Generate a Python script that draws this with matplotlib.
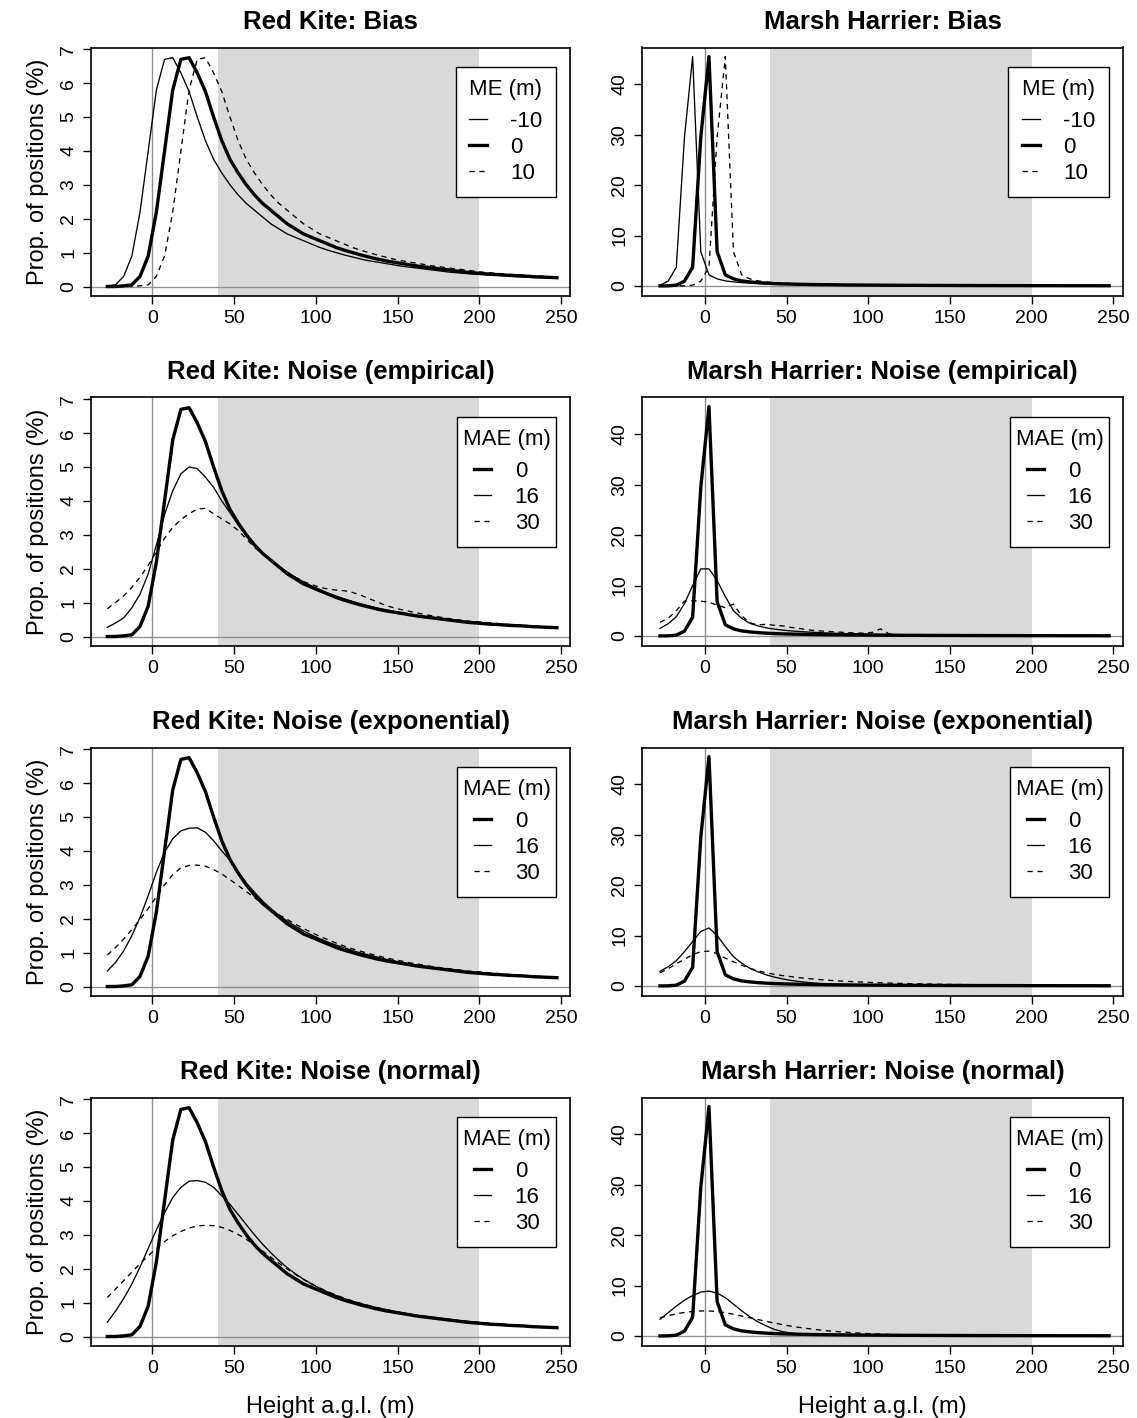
import matplotlib
matplotlib.use("Agg")
import matplotlib.pyplot as plt
from matplotlib.offsetbox import DrawingArea

plt.rcParams['font.family'] = ['Liberation Sans', 'DejaVu Sans']

# ---------------- data ----------------
height = [-27.5, -22.5, -17.5, -12.5, -7.5, -2.5, 2.5, 7.5, 12.5, 17.5,
          22.5, 27.5, 32.5, 37.5, 42.5, 47.5, 52.5, 57.5, 62.5, 67.5,
          72.5, 77.5, 82.5, 87.5, 92.5, 97.5, 102.5, 107.5, 112.5, 117.5,
          122.5, 127.5, 132.5, 137.5, 142.5, 147.5, 152.5, 157.5, 162.5, 167.5,
          172.5, 177.5, 182.5, 187.5, 192.5, 197.5, 202.5, 207.5, 212.5, 217.5,
          222.5, 227.5, 232.5, 237.5, 242.5, 247.5]

# Red Kite
rk_base = [0.00, 0.00, 0.02, 0.05, 0.30, 0.90, 2.20, 4.00, 5.80, 6.70,
           6.75, 6.30, 5.75, 5.00, 4.30, 3.75, 3.35, 3.00, 2.70, 2.45,
           2.25, 2.05, 1.85, 1.70, 1.55, 1.45, 1.35, 1.25, 1.15, 1.07,
           1.00, 0.93, 0.87, 0.81, 0.76, 0.72, 0.68, 0.64, 0.60, 0.57,
           0.54, 0.51, 0.48, 0.45, 0.42, 0.40, 0.38, 0.36, 0.35, 0.33,
           0.32, 0.31, 0.29, 0.28, 0.27, 0.26]
rk_me_m10 = [0.02, 0.05, 0.30, 0.90, 2.20, 4.00, 5.80, 6.70, 6.75, 6.30,
             5.75, 5.00, 4.30, 3.75, 3.35, 3.00, 2.70, 2.45, 2.25, 2.05,
             1.85, 1.70, 1.55, 1.45, 1.35, 1.25, 1.15, 1.07, 1.00, 0.93,
             0.87, 0.81, 0.76, 0.72, 0.68, 0.64, 0.60, 0.57, 0.54, 0.51,
             0.48, 0.45, 0.42, 0.40, 0.38, 0.36, 0.35, 0.33, 0.32, 0.31,
             0.29, 0.28, 0.27, 0.26, 0.25, 0.24]
rk_me_p10 = [0.00, 0.00, 0.00, 0.00, 0.02, 0.05, 0.30, 0.90, 2.20, 4.00,
             5.80, 6.70, 6.75, 6.30, 5.75, 5.00, 4.30, 3.75, 3.35, 3.00,
             2.70, 2.45, 2.25, 2.05, 1.85, 1.70, 1.55, 1.45, 1.35, 1.25,
             1.15, 1.07, 1.00, 0.93, 0.87, 0.81, 0.76, 0.72, 0.68, 0.64,
             0.60, 0.57, 0.54, 0.51, 0.48, 0.45, 0.42, 0.40, 0.38, 0.36,
             0.35, 0.33, 0.32, 0.31, 0.29, 0.28]
rk_emp16 = [0.27, 0.40, 0.55, 0.85, 1.25, 1.85, 2.70, 3.60, 4.30, 4.80,
            5.00, 4.95, 4.70, 4.40, 4.00, 3.65, 3.30, 2.97, 2.70, 2.47,
            2.27, 2.08, 1.90, 1.75, 1.61, 1.49, 1.38, 1.28, 1.19, 1.11,
            1.03, 0.96, 0.90, 0.84, 0.79, 0.74, 0.70, 0.66, 0.62, 0.59,
            0.56, 0.53, 0.50, 0.47, 0.44, 0.42, 0.40, 0.38, 0.36, 0.35,
            0.33, 0.32, 0.30, 0.29, 0.28, 0.27]
rk_emp30 = [0.82, 1.00, 1.20, 1.45, 1.75, 2.10, 2.50, 2.90, 3.22, 3.45,
            3.62, 3.76, 3.78, 3.62, 3.47, 3.32, 3.13, 2.88, 2.63, 2.43,
            2.25, 2.05, 1.90, 1.75, 1.62, 1.53, 1.45, 1.40, 1.37, 1.35,
            1.30, 1.22, 1.12, 1.02, 0.92, 0.85, 0.79, 0.74, 0.69, 0.64,
            0.60, 0.56, 0.52, 0.49, 0.46, 0.44, 0.42, 0.40, 0.38, 0.36,
            0.34, 0.33, 0.31, 0.30, 0.28, 0.27]
rk_exp16 = [0.46, 0.71, 1.05, 1.50, 2.04, 2.68, 3.37, 3.96, 4.36, 4.59,
            4.67, 4.68, 4.55, 4.30, 4.00, 3.72, 3.37, 3.05, 2.78, 2.52,
            2.30, 2.10, 1.93, 1.78, 1.64, 1.52, 1.41, 1.31, 1.22, 1.14,
            1.06, 0.99, 0.93, 0.87, 0.81, 0.76, 0.71, 0.67, 0.63, 0.59,
            0.56, 0.53, 0.50, 0.47, 0.44, 0.42, 0.40, 0.38, 0.36, 0.35,
            0.33, 0.32, 0.30, 0.29, 0.28, 0.27]
rk_exp30 = [0.93, 1.15, 1.40, 1.68, 1.98, 2.30, 2.65, 3.00, 3.30, 3.50,
            3.57, 3.58, 3.55, 3.45, 3.32, 3.15, 2.98, 2.80, 2.62, 2.45,
            2.28, 2.12, 1.98, 1.84, 1.71, 1.59, 1.48, 1.38, 1.28, 1.19,
            1.11, 1.04, 0.97, 0.91, 0.85, 0.80, 0.75, 0.70, 0.66, 0.62,
            0.58, 0.55, 0.52, 0.49, 0.46, 0.44, 0.42, 0.40, 0.38, 0.36,
            0.34, 0.33, 0.31, 0.30, 0.28, 0.27]
rk_nor16 = [0.42, 0.75, 1.12, 1.55, 2.05, 2.60, 3.15, 3.65, 4.10, 4.40,
            4.58, 4.60, 4.55, 4.40, 4.15, 3.90, 3.60, 3.30, 3.00, 2.72,
            2.47, 2.24, 2.03, 1.85, 1.69, 1.55, 1.42, 1.31, 1.21, 1.12,
            1.04, 0.97, 0.91, 0.85, 0.80, 0.75, 0.70, 0.66, 0.62, 0.59,
            0.56, 0.53, 0.50, 0.47, 0.44, 0.42, 0.40, 0.38, 0.36, 0.35,
            0.33, 0.32, 0.30, 0.29, 0.28, 0.27]
rk_nor30 = [1.15, 1.40, 1.65, 1.90, 2.15, 2.38, 2.60, 2.80, 2.97, 3.10,
            3.20, 3.26, 3.28, 3.27, 3.22, 3.13, 3.01, 2.87, 2.70, 2.52,
            2.34, 2.16, 1.99, 1.83, 1.68, 1.55, 1.43, 1.32, 1.22, 1.13,
            1.05, 0.98, 0.91, 0.85, 0.80, 0.75, 0.70, 0.66, 0.62, 0.59,
            0.56, 0.53, 0.50, 0.47, 0.45, 0.43, 0.41, 0.39, 0.37, 0.35,
            0.34, 0.32, 0.31, 0.29, 0.28, 0.27]

# Marsh Harrier
mh_base = [0.00, 0.02, 0.15, 0.95, 3.70, 29.50, 45.50, 6.80, 2.20, 1.40,
           1.00, 0.80, 0.65, 0.55, 0.47, 0.41, 0.37, 0.33, 0.30, 0.27,
           0.25, 0.23, 0.21, 0.19, 0.18, 0.17, 0.16, 0.15, 0.14, 0.13,
           0.12, 0.12, 0.11, 0.10, 0.10, 0.09, 0.09, 0.08, 0.08, 0.07,
           0.07, 0.07, 0.06, 0.06, 0.06, 0.05, 0.05, 0.05, 0.05, 0.04,
           0.04, 0.04, 0.04, 0.04, 0.03, 0.03]
mh_me_m10 = [0.15, 0.95, 3.70, 29.50, 45.50, 6.80, 2.20, 1.40, 1.00, 0.80,
             0.65, 0.55, 0.47, 0.41, 0.37, 0.33, 0.30, 0.27, 0.25, 0.23,
             0.21, 0.19, 0.18, 0.17, 0.16, 0.15, 0.14, 0.13, 0.12, 0.12,
             0.11, 0.10, 0.10, 0.09, 0.09, 0.08, 0.08, 0.07, 0.07, 0.07,
             0.06, 0.06, 0.06, 0.05, 0.05, 0.05, 0.05, 0.04, 0.04, 0.04,
             0.04, 0.04, 0.03, 0.03, 0.03, 0.03]
mh_me_p10 = [0.00, 0.00, 0.00, 0.02, 0.15, 0.95, 3.70, 29.50, 45.50, 6.80,
             2.20, 1.40, 1.00, 0.80, 0.65, 0.55, 0.47, 0.41, 0.37, 0.33,
             0.30, 0.27, 0.25, 0.23, 0.21, 0.19, 0.18, 0.17, 0.16, 0.15,
             0.14, 0.13, 0.12, 0.12, 0.11, 0.10, 0.10, 0.09, 0.09, 0.08,
             0.08, 0.07, 0.07, 0.07, 0.06, 0.06, 0.06, 0.05, 0.05, 0.05,
             0.05, 0.04, 0.04, 0.04, 0.04, 0.04]
mh_emp16 = [1.50, 2.40, 3.80, 6.40, 10.00, 13.30, 13.30, 11.00, 7.80, 5.00,
            3.50, 2.50, 2.00, 1.60, 1.35, 1.15, 1.00, 0.88, 0.78, 0.70,
            0.62, 0.56, 0.50, 0.45, 0.41, 0.37, 0.34, 0.31, 0.28, 0.26,
            0.24, 0.22, 0.20, 0.19, 0.17, 0.16, 0.15, 0.14, 0.13, 0.12,
            0.11, 0.10, 0.10, 0.09, 0.09, 0.08, 0.08, 0.07, 0.07, 0.06,
            0.06, 0.06, 0.05, 0.05, 0.05, 0.04]
mh_emp30 = [2.70, 3.50, 5.00, 6.90, 7.00, 6.90, 6.70, 6.10, 5.60, 6.30,
            4.00, 2.60, 2.20, 2.30, 2.10, 2.00, 1.70, 1.50, 1.25, 1.05,
            0.95, 0.85, 0.75, 0.65, 0.58, 0.55, 0.70, 1.40, 0.45, 0.20,
            0.15, 0.13, 0.12, 0.11, 0.10, 0.09, 0.09, 0.08, 0.08, 0.07,
            0.07, 0.07, 0.06, 0.06, 0.06, 0.05, 0.05, 0.05, 0.05, 0.04,
            0.04, 0.04, 0.04, 0.04, 0.03, 0.03]
mh_exp16 = [2.90, 3.80, 5.00, 6.80, 8.80, 10.80, 11.50, 10.00, 7.80, 5.80,
            4.50, 3.50, 2.80, 2.20, 1.75, 1.40, 1.10, 0.88, 0.70, 0.56,
            0.46, 0.38, 0.32, 0.28, 0.25, 0.22, 0.20, 0.18, 0.16, 0.15,
            0.14, 0.13, 0.12, 0.11, 0.10, 0.09, 0.09, 0.08, 0.08, 0.07,
            0.07, 0.07, 0.06, 0.06, 0.06, 0.05, 0.05, 0.05, 0.05, 0.04,
            0.04, 0.04, 0.04, 0.04, 0.03, 0.03]
mh_exp30 = [2.60, 3.40, 4.40, 5.30, 6.20, 6.80, 6.90, 6.40, 5.50, 4.80,
            4.10, 3.50, 3.00, 2.60, 2.30, 2.05, 1.85, 1.65, 1.48, 1.33,
            1.20, 1.08, 0.98, 0.89, 0.81, 0.74, 0.68, 0.62, 0.57, 0.52,
            0.48, 0.44, 0.40, 0.37, 0.34, 0.31, 0.29, 0.27, 0.25, 0.23,
            0.21, 0.19, 0.18, 0.17, 0.16, 0.15, 0.14, 0.13, 0.12, 0.11,
            0.10, 0.09, 0.09, 0.08, 0.08, 0.07]
mh_nor16 = [3.30, 4.60, 5.90, 7.10, 8.00, 8.70, 8.90, 8.50, 7.60, 6.30,
            5.00, 3.80, 2.80, 2.00, 1.30, 0.85, 0.58, 0.42, 0.33, 0.28,
            0.25, 0.23, 0.21, 0.19, 0.18, 0.17, 0.16, 0.15, 0.14, 0.13,
            0.12, 0.12, 0.11, 0.10, 0.10, 0.09, 0.09, 0.08, 0.08, 0.07,
            0.07, 0.07, 0.06, 0.06, 0.06, 0.05, 0.05, 0.05, 0.05, 0.04,
            0.04, 0.04, 0.04, 0.04, 0.03, 0.03]
mh_nor30 = [3.60, 4.00, 4.40, 4.65, 4.85, 4.95, 4.95, 4.85, 4.60, 4.30,
            3.95, 3.60, 3.25, 2.90, 2.55, 2.25, 1.95, 1.70, 1.48, 1.28,
            1.10, 0.95, 0.82, 0.70, 0.60, 0.50, 0.42, 0.35, 0.30, 0.26,
            0.22, 0.19, 0.17, 0.15, 0.14, 0.13, 0.12, 0.11, 0.10, 0.09,
            0.09, 0.08, 0.08, 0.07, 0.07, 0.06, 0.06, 0.06, 0.05, 0.05,
            0.05, 0.04, 0.04, 0.04, 0.04, 0.03]

bias_labels = ["-10", "0", "10"]
noise_labels = ["0", "16", "30"]
x_ticks = [0, 50, 100, 150, 200, 250]
rk_yticks = [0, 1, 2, 3, 4, 5, 6, 7]
mh_yticks = [0, 10, 20, 30, 40]
shade_range = (40, 200)

titles = [["Red Kite: Bias", "Marsh Harrier: Bias"],
          ["Red Kite: Noise (empirical)", "Marsh Harrier: Noise (empirical)"],
          ["Red Kite: Noise (exponential)", "Marsh Harrier: Noise (exponential)"],
          ["Red Kite: Noise (normal)", "Marsh Harrier: Noise (normal)"]]

# ---------------- styles ----------------
THICK = dict(color="black", lw=2.4, ls="-")
THIN = dict(color="black", lw=0.95, ls="-")
DASH = dict(color="black", lw=0.95, ls=(0, (4, 3.5)))

panels = [
    [("ME (m)", [(rk_me_m10, THIN), (rk_base, THICK), (rk_me_p10, DASH)], bias_labels),
     ("ME (m)", [(mh_me_m10, THIN), (mh_base, THICK), (mh_me_p10, DASH)], bias_labels)],
    [("MAE (m)", [(rk_base, THICK), (rk_emp16, THIN), (rk_emp30, DASH)], noise_labels),
     ("MAE (m)", [(mh_base, THICK), (mh_emp16, THIN), (mh_emp30, DASH)], noise_labels)],
    [("MAE (m)", [(rk_base, THICK), (rk_exp16, THIN), (rk_exp30, DASH)], noise_labels),
     ("MAE (m)", [(mh_base, THICK), (mh_exp16, THIN), (mh_exp30, DASH)], noise_labels)],
    [("MAE (m)", [(rk_base, THICK), (rk_nor16, THIN), (rk_nor30, DASH)], noise_labels),
     ("MAE (m)", [(mh_base, THICK), (mh_nor16, THIN), (mh_nor30, DASH)], noise_labels)],
]

W, H = 1137, 1418
fig = plt.figure(figsize=(W / 100, H / 100), dpi=100)

col_left = [91, 642]
col_width = [479, 481]
row_top = [47.5, 397.5, 747.5, 1097.5]
row_h = 248.5

for r in range(4):
    for c in range(2):
        left = col_left[c] / W
        bottom = 1 - (row_top[r] + row_h) / H
        ax = fig.add_axes([left, bottom, col_width[c] / W, row_h / H])
        ax.axvspan(shade_range[0], shade_range[1], color="#d9d9d9", lw=0, zorder=0)
        ax.axvline(0, color="#8f8f8f", lw=1.0, zorder=1)
        ax.axhline(0, color="#8f8f8f", lw=1.0, zorder=1)
        title, series, labels = panels[r][c]
        handles = []
        for ys, st in series:
            ln, = ax.plot(height, ys, zorder=3, solid_joinstyle="round", **st)
            handles.append(ln)
        if c == 0:
            ax.set_xlim(-37.5, 255.5)
            ax.set_ylim(-0.28, 7.05)
            ax.set_yticks(rk_yticks)
        else:
            ax.set_xlim(-38.5, 256)
            ax.set_ylim(-2.0, 47.3)
            ax.set_yticks(mh_yticks)
        ax.set_xticks(x_ticks)
        ax.tick_params(axis="both", direction="out", length=6, width=1.0,
                       labelsize=14, pad=4, color="black")
        for lab in ax.get_yticklabels():
            lab.set_rotation(90)
            lab.set_va("center")
        for sp in ax.spines.values():
            sp.set_linewidth(1.2)
            sp.set_color("black")
            sp.set_zorder(5)
        ax.set_title(titles[r][c], fontsize=18.5, fontweight="bold", pad=13)
        if c == 0:
            ax.set_ylabel("Prop. of positions (%)", fontsize=17, labelpad=8)
        if r == 3:
            ax.set_xlabel("Height a.g.l. (m)", fontsize=17, labelpad=14)

        # legend: tight horizontal border, R-like vertical spacing
        leg = ax.legend(handles, labels, title=title, loc="upper right",
                        bbox_to_anchor=(0.971, 0.921), borderaxespad=0,
                        fontsize=16, title_fontsize=16, frameon=True,
                        fancybox=False, framealpha=1, edgecolor="black",
                        handlelength=0.8, handletextpad=1.05,
                        labelspacing=0.23, borderpad=0.25)
        leg.get_frame().set_linewidth(1.0)
        leg.set_zorder(6)
        try:
            leg._legend_handle_box.pad = 5.8      # points, around entries
            leg._legend_box.sep = 1.7             # points
            spacer = DrawingArea(0, 3.0)          # extra space above the title
            leg._legend_box._children.insert(0, spacer)
        except Exception:
            pass

fig.savefig("out.png", dpi=100)
